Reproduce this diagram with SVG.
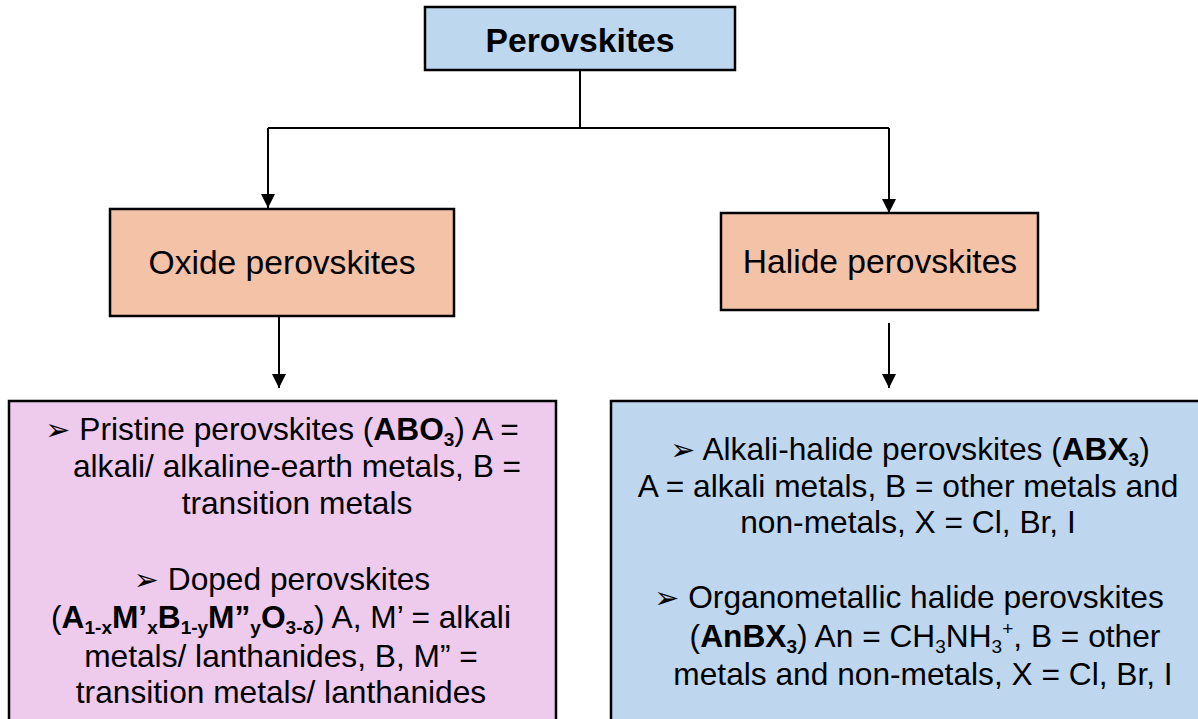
<svg xmlns="http://www.w3.org/2000/svg" width="1198" height="719" viewBox="0 0 1198 719">
<style>
.box{stroke:#000;stroke-width:2.5}
.t{font-family:"Liberation Sans",Arial,sans-serif;fill:#000;text-anchor:middle}
.body{font-size:31.7px}
.b{font-weight:bold}
.s{font-size:19px}
.bul{font-family:"DejaVu Sans",sans-serif;font-size:30px}
.c{stroke:#000;stroke-width:2;fill:none}
</style>
<defs>
<marker id="ah" viewBox="0 0 10 10" refX="10" refY="5" markerWidth="7" markerHeight="7" markerUnits="strokeWidth" orient="auto">
<path d="M0,0 L10,5 L0,10 Z" fill="#000"/>
</marker>
</defs>
<rect width="1198" height="719" fill="#fff"/>
<g id="connectors">
<path class="c" d="M580,70 V128 M268,128 H889"/>
<path class="c" d="M268,128 V208" marker-end="url(#ah)"/>
<path class="c" d="M889,128 V213" marker-end="url(#ah)"/>
<path class="c" d="M279,316 V388" marker-end="url(#ah)"/>
<path class="c" d="M889,323 V388" marker-end="url(#ah)"/>
</g>
<g id="perovskites">
<rect class="box" x="425" y="7" width="310" height="63" fill="#BDD7EE"/>
<text class="t b" x="580" y="52" font-size="33.7">Perovskites</text>
</g>
<g id="oxide">
<rect class="box" x="110" y="209" width="344" height="107" fill="#F4C2A7"/>
<text class="t" x="282" y="274" font-size="33.6">Oxide perovskites</text>
</g>
<g id="halide">
<rect class="box" x="721" y="213" width="317" height="97" fill="#F4C2A7"/>
<text class="t" x="880" y="273" font-size="33.6">Halide perovskites</text>
</g>
<g id="oxide-types">
<rect class="box" x="9" y="401" width="547" height="330" fill="#EECAEC"/>
<text class="t body" x="282" y="440"><tspan class="bul">➢</tspan> Pristine perovskites (<tspan class="b">ABO<tspan class="s" dy="6">3</tspan></tspan><tspan dy="-6">) A =</tspan></text>
<text class="t body" x="297" y="477">alkali/ alkaline-earth metals, B =</text>
<text class="t body" x="297" y="514">transition metals</text>
<text class="t body" x="282" y="590"><tspan class="bul">➢</tspan> Doped perovskites</text>
<text class="t body" x="281" y="628">(<tspan class="b">A<tspan class="s" dy="6">1-x</tspan><tspan dy="-6">M’</tspan><tspan class="s" dy="6">x</tspan><tspan dy="-6">B</tspan><tspan class="s" dy="6">1-y</tspan><tspan dy="-6">M”</tspan><tspan class="s" dy="6">y</tspan><tspan dy="-6">O</tspan><tspan class="s" dy="6">3-δ</tspan></tspan><tspan dy="-6">) A, M’ = alkali</tspan></text>
<text class="t body" x="281" y="667">metals/ lanthanides, B, M” =</text>
<text class="t body" x="281" y="703">transition metals/ lanthanides</text>
</g>
<g id="halide-types">
<rect class="box" x="611" y="401" width="600" height="330" fill="#BED6EE"/>
<text class="t body" x="910" y="460"><tspan class="bul">➢</tspan> Alkali-halide perovskites (<tspan class="b">ABX<tspan class="s" dy="6">3</tspan></tspan><tspan dy="-6">)</tspan></text>
<text class="t body" x="908" y="497">A = alkali metals, B = other metals and</text>
<text class="t body" x="908" y="533">non-metals, X = Cl, Br, I</text>
<text class="t body" x="909" y="608"><tspan class="bul">➢</tspan> Organometallic halide perovskites</text>
<text class="t body" x="925" y="647">(<tspan class="b">AnBX<tspan class="s" dy="6">3</tspan></tspan><tspan dy="-6">) An = CH</tspan><tspan class="s" dy="6">3</tspan><tspan dy="-6">NH</tspan><tspan class="s" dy="6">3</tspan><tspan class="s" dy="-18">+</tspan><tspan dy="12">, B = other</tspan></text>
<text class="t body" x="923" y="685">metals and non-metals, X = Cl, Br, I</text>
</g>
</svg>
